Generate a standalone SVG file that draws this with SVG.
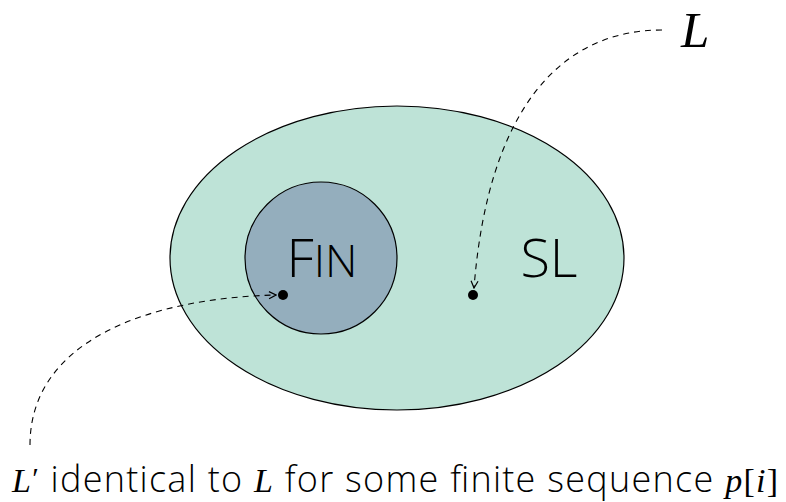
<svg xmlns="http://www.w3.org/2000/svg" width="786" height="502" viewBox="0 0 786 502">
  <style>
    .sans { font-family: "Open Sans", "Lato", "DejaVu Sans", sans-serif; font-weight: 300; fill: #000; }
    .math { font-family: "Liberation Serif", "DejaVu Serif", serif; font-style: italic; font-weight: 400; }
    .rm { font-family: "Liberation Serif", "DejaVu Serif", serif; font-style: normal; font-weight: 400; }
    .link { fill: none; stroke: #000; stroke-width: 1.1; stroke-dasharray: 6 5; }
    .dot { fill: #000; }
  </style>
  <defs>
    <marker id="chev" viewBox="0 0 10 10" refX="9" refY="5" markerWidth="10" markerHeight="10" markerUnits="userSpaceOnUse" orient="auto">
      <path d="M2,1.5 L9,5 L2,8.5" fill="none" stroke="#000" stroke-width="1.2"/>
    </marker>
  </defs>

  <g id="sl">
    <ellipse cx="397" cy="258" rx="227" ry="152" fill="#bee3d7" stroke="#000" stroke-width="1.2"/>
    <text class="sans" x="549" y="277" font-size="54" text-anchor="middle">SL</text>
  </g>

  <g id="fin">
    <circle cx="321" cy="258" r="76" fill="#94aebd" stroke="#000" stroke-width="1.2"/>
    <text class="sans" x="322" y="277" text-anchor="middle"><tspan font-size="54">F</tspan><tspan font-size="45">IN</tspan></text>
  </g>

  <g id="point-fin">
    <circle class="dot" cx="283" cy="295" r="5"/>
  </g>
  <g id="point-sl">
    <circle class="dot" cx="473" cy="295" r="5"/>
  </g>

  <g id="label-l">
    <text class="math" x="681" y="47" font-size="51">L</text>
  </g>

  <g id="label-lprime">
    <text class="sans" x="12" y="492" font-size="36" textLength="766" lengthAdjust="spacing"><tspan class="math" font-size="34">L</tspan><tspan class="rm" font-size="30" dy="-4">′</tspan><tspan dy="4"> identical to </tspan><tspan class="math" font-size="34">L</tspan><tspan> for some finite sequence </tspan><tspan class="math" font-size="34">p</tspan><tspan class="rm" font-size="34">[</tspan><tspan class="math" font-size="34">i</tspan><tspan class="rm" font-size="34">]</tspan></text>
  </g>

  <g id="connectors">
    <path class="link" d="M662,30 C560,30 488,110 474,288" marker-end="url(#chev)"/>
    <path class="link" d="M30,445 C30,340 150,298 276,295" marker-end="url(#chev)"/>
  </g>
</svg>
